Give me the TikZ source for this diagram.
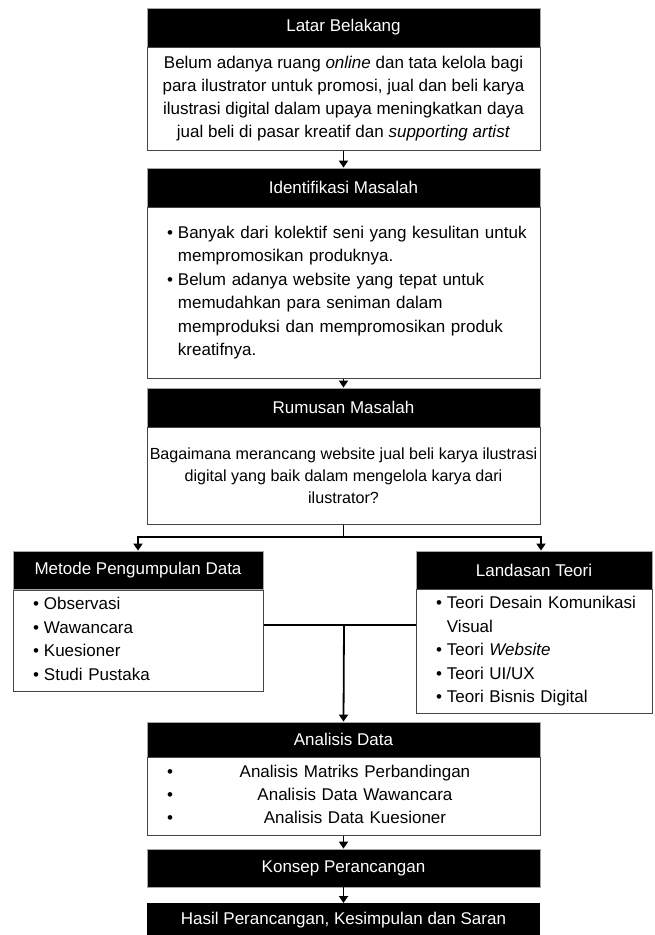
\documentclass[tikz,border=0pt]{standalone}
\usepackage{fontspec}
\setmainfont{Liberation Sans}
\usetikzlibrary{arrows.meta}
\begin{document}
\begin{tikzpicture}[x=1pt,y=-1pt,
  hdr/.style={fill=black, draw=gray!70, line width=0.8pt, text=white,
    font=\fontsize{17}{20}\selectfont, inner sep=0pt},
  bodybox/.style={draw=gray!55!black, line width=1pt, fill=white,
    font=\fontsize{17}{23.5}\selectfont, inner xsep=20pt, inner ysep=0pt},
  conn/.style={line width=1.8pt, draw=black},
  arr/.style={conn, -{Triangle[width=9pt,length=7pt]}}
]
\useasboundingbox (0,0) rectangle (654,935);
% Latar Belakang
\node[hdr, minimum width=393pt, minimum height=39pt] (latarH) at (343.5,27.5) {Latar Belakang};
\node[bodybox, minimum width=393pt, minimum height=103pt, inner xsep=1pt, align=center,
  font=\fontsize{17}{23}\selectfont] (latarB) at (343.5,98.5)
  {Belum adanya ruang \textit{online} dan tata kelola bagi\\
   para ilustrator untuk promosi, jual dan beli karya\\
   ilustrasi digital dalam upaya meningkatkan daya\\
   jual beli di pasar kreatif dan \textit{supporting artist}};
% Identifikasi Masalah
\node[hdr, minimum width=393pt, minimum height=39pt] (identH) at (343.5,187.5) {Identifikasi Masalah};
\node[bodybox, minimum width=393pt, minimum height=171pt, text width=353pt, align=left] (identB) at (343.5,292.5)
  {\begin{tabular}{@{}l@{\hspace{5pt}}l@{}}
   • & Banyak dari kolektif seni yang kesulitan untuk\\
     & mempromosikan produknya.\\
   • & Belum adanya website yang tepat untuk\\
     & memudahkan para seniman dalam\\
     & memproduksi dan mempromosikan produk\\
     & kreatifnya.
   \end{tabular}};
% Rumusan Masalah
\node[hdr, minimum width=393pt, minimum height=39pt] (rumusH) at (343.5,407.5) {Rumusan Masalah};
\node[bodybox, minimum width=393pt, minimum height=97pt, inner xsep=1pt, align=center,
  font=\fontsize{16.1}{22}\selectfont] (rumusB) at (343.5,475.5)
  {Bagaimana merancang website jual beli karya ilustrasi\\
   digital yang baik dalam mengelola karya dari\\
   ilustrator?};
% Metode Pengumpulan Data
\node[hdr, minimum width=250pt, minimum height=38pt] (metodeH) at (138,570) {Metode Pengumpulan Data};
\node[bodybox, minimum width=250pt, minimum height=101pt, text width=210pt, align=left] (metodeB) at (138,640.5)
  {\begin{tabular}{@{}l@{\hspace{5pt}}l@{}}
   • & Observasi\\
   • & Wawancara\\
   • & Kuesioner\\
   • & Studi Pustaka
   \end{tabular}};
% Landasan Teori
\node[hdr, minimum width=236pt, minimum height=38pt] (landasH) at (534,570) {Landasan Teori};
\node[bodybox, minimum width=236pt, minimum height=124pt, text width=196pt, align=left] (landasB) at (534,651)
  {\begin{tabular}{@{}l@{\hspace{5pt}}l@{}}
   • & Teori Desain Komunikasi\\
     & Visual\\
   • & Teori \textit{Website}\\
   • & Teori UI/UX\\
   • & Teori Bisnis Digital
   \end{tabular}};
% Analisis Data
\node[hdr, minimum width=393pt, minimum height=35pt] (analisH) at (343.5,739.5) {Analisis Data};
\node[bodybox, minimum width=393pt, minimum height=78pt, text width=353pt, align=left,
  font=\fontsize{17}{23}\selectfont] (analisB) at (343.5,796)
  {\begin{tabular}{@{}l@{}l@{}}
   • & \makebox[364pt][c]{Analisis Matriks Perbandingan}\\
   • & \makebox[364pt][c]{Analisis Data Wawancara}\\
   • & \makebox[364pt][c]{Analisis Data Kuesioner}
   \end{tabular}};
% Konsep Perancangan
\node[hdr, minimum width=393pt, minimum height=38pt] (konsepH) at (343.5,868) {Konsep Perancangan};
% Hasil
\node[hdr, draw=none, minimum width=393pt, minimum height=34pt, anchor=north] (hasilH) at (343.5,903)
  {\raisebox{2pt}{Hasil Perancangan, Kesimpulan dan Saran}};
% connectors
\coordinate (split) at (343.5,537);
\coordinate (mid) at (344,625);
\draw[arr] (latarB.south) -- (identH.north);
\draw[arr] (identB.south) -- (rumusH.north);
\draw[conn] (rumusB.south) -- (split);
\draw[arr] (split) -| (metodeH.north);
\draw[arr] (split) -| ([xshift=7pt]landasH.north);
\draw[conn] (metodeB.east |- mid) -- (landasB.west |- mid);
\draw[arr] (mid) -- (analisH.north);
\draw[arr] (analisB.south) -- (konsepH.north);
\draw[arr] (konsepH.south) -- (hasilH.north);
\end{tikzpicture}
\end{document}
